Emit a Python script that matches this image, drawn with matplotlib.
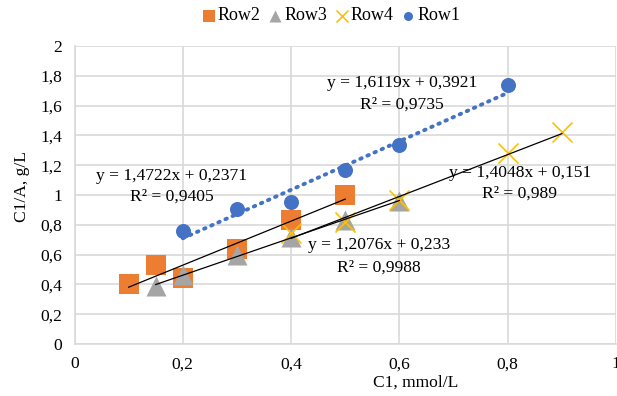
import matplotlib
matplotlib.use('Agg')
import matplotlib.pyplot as plt
import numpy as np

# data
row1_x = [0.2, 0.3, 0.4, 0.5, 0.6, 0.8]
row1_y = [0.76, 0.905, 0.955, 1.165, 1.335, 1.74]
row2_x = [0.1, 0.15, 0.2, 0.3, 0.4, 0.5]
row2_y = [0.40, 0.53, 0.44, 0.64, 0.83, 1.00]
row3_x = [0.15, 0.2, 0.3, 0.4, 0.5, 0.6]
row3_y = [0.39, 0.46, 0.60, 0.72, 0.83, 0.96]
row4_x = [0.4, 0.5, 0.6, 0.8, 0.9]
row4_y = [0.745, 0.82, 0.967, 1.28, 1.42]

labels_eq = {
    "Row1": ("y = 1,6119x + 0,3921", "R² = 0,9735"),
    "Row2": ("y = 1,4722x + 0,2371", "R² = 0,9405"),
    "Row3": ("y = 1,2076x + 0,233", "R² = 0,9988"),
    "Row4": ("y = 1,4048x + 0,151", "R² = 0,989"),
}

BLUE = '#4472C4'
ORANGE = '#ED7D31'
GRAY = '#A5A5A5'
YELLOW = '#FFC000'

plt.rcParams['font.family'] = ['Liberation Serif', 'DejaVu Serif']
FS = 12.6

W, H = 617, 396
fig = plt.figure(figsize=(W / 100, H / 100), dpi=100)
ax = fig.add_axes([74.5 / W, 1 - 344 / H, (616 - 74.5) / W, (344 - 46) / H])

ax.scatter(row2_x, row2_y, marker='s', s=19**2 * 0.52, color=ORANGE, label='Row2', zorder=3, linewidths=0)
ax.scatter(row3_x, row3_y, marker='^', s=20**2 * 0.52, color=GRAY, label='Row3', zorder=4, linewidths=0)
ax.scatter(row4_x, row4_y, marker='x', s=20**2 * 0.52, color=YELLOW, label='Row4', zorder=5, linewidths=1.2)
ax.scatter(row1_x, row1_y, marker='o', s=15**2 * 0.52, color=BLUE, label='Row1', zorder=6, linewidths=0)


def trend(x, y):
    k, b = np.polyfit(x, y, 1)
    xs = np.array([min(x), max(x)])
    return xs, k * xs + b


xs, ys = trend(row1_x, row1_y)
ax.plot(xs, ys, color=BLUE, lw=2.8, ls=(0, (0.4, 1.6)), dash_capstyle='round', zorder=5.5)
for xx, yy in [(row2_x, row2_y), (row3_x, row3_y), (row4_x, row4_y)]:
    xs, ys = trend(xx, yy)
    ax.plot(xs, ys, color='black', lw=0.9, zorder=7)

ax.set_xlim(0, 1)
ax.set_ylim(0, 2)
xt = np.arange(0, 1.01, 0.2)
yt = np.arange(0, 2.01, 0.2)
fmt = lambda v: ('%g' % round(v, 1)).replace('.', ',')
ax.set_xticks(xt, [fmt(v) for v in xt])
ax.set_yticks(yt, [fmt(v) for v in yt])
ax.tick_params(length=0, labelsize=FS, pad=9)
ax.grid(color='#d9d9d9', lw=1.2)
ax.set_axisbelow(True)
for s in ['top', 'right']:
    ax.spines[s].set_visible(False)
for s in ['left', 'bottom']:
    ax.spines[s].set_color('#d9d9d9')
    ax.spines[s].set_linewidth(1.2)

# trendline labels (pixel positions of the label centres)
def px(x, y):
    return x / W, 1 - y / H

pos = {"Row1": (402, 83, 105), "Row2": (172, 176, 197),
       "Row4": (520, 173, 194), "Row3": (379, 245, 268)}
for k, (cx, y1, y2) in pos.items():
    eq, r2 = labels_eq[k]
    fig.text(*px(cx, y1), eq, ha='center', va='center', fontsize=FS, zorder=10)
    fig.text(*px(cx, y2), r2, ha='center', va='center', fontsize=FS, zorder=10)

fig.text(*px(416, 383), 'C1, mmol/L', ha='center', va='center', fontsize=FS)
fig.text(*px(22, 187), 'C1/A, g/L', ha='center', va='center', fontsize=FS, rotation=90)

fig.legend(loc='center', bbox_to_anchor=px(330, 16), ncol=4, frameon=False,
           fontsize=13, handletextpad=0.0, columnspacing=0.3, handlelength=1.0,
           markerscale=0.6, borderpad=0)

fig.savefig('out.png', dpi=100)
